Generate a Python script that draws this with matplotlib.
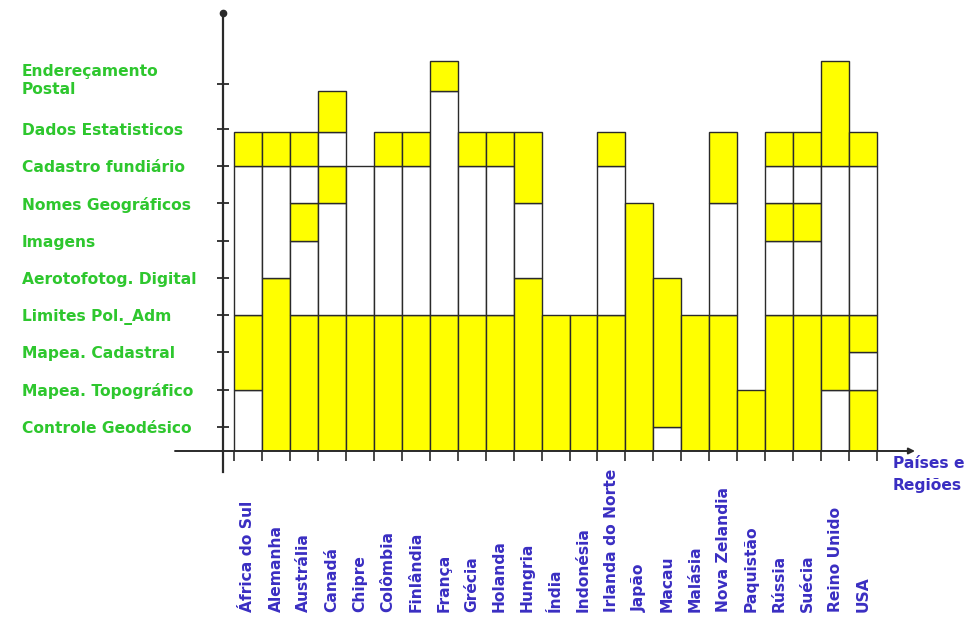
import matplotlib
matplotlib.use("Agg")
import matplotlib.pyplot as plt
from matplotlib.transforms import ScaledTranslation
import numpy as np

# ---------------- data ----------------
countries = ["África do Sul", "Alemanha", "Austrália", "Canadá", "Chipre", "Colômbia",
             "Finlândia", "França", "Grécia", "Holanda", "Hungria", "Índia", "Indonésia",
             "Irlanda do Norte", "Japão", "Macau", "Malásia", "Nova Zelandia", "Paquistão",
             "Rússia", "Suécia", "Reino Unido", "USA"]

themes = ["Controle Geodésico", "Mapea. Topográfico", "Mapea. Cadastral", "Limites Pol._Adm",
          "Aerotofotog. Digital", "Imagens", "Nomes Geográficos", "Cadastro fundiário",
          "Dados Estatisticos", "Endereçamento\nPostal"]

# band status from bottom to top: Y = yellow (covered), W = white
coverage = ["WWYYWWWWY", "YYYYYWWWY", "YYYYWWYWY", "YYYYWWWYWY", "YYYYWWWW",
            "YYYYWWWWY", "YYYYWWWWY", "YYYYWWWWWWY", "YYYYWWWWY", "YYYYWWWWY",
            "YYYYYWWYY", "YYYY", "YYYY", "YYYYWWWWY", "YYYYYYY", "WYYYY", "YYYY",
            "YYYYWWWYY", "YY", "YYYYWWYWY", "YYYYWWYWY", "WWYYWWWWYYY", "YYWYWWWWY"]

# band edges on the value scale (bottom = axis)
level_edges = [0.357, 1, 2, 3, 4, 5, 6, 7, 8, 8.9, 10, 10.8]
theme_ticks = [1, 2, 3, 4, 5, 6, 7, 8, 9, 10.2]

# ---------------- style ----------------
W, H = 966, 617
YELLOW = "#FFFF00"
EDGE = "#2a2a2a"
GREEN = "#2EC72E"
BLUE = "#3A2EC2"
FONT = "DejaVu Sans"
FS = 11.2

fig = plt.figure(figsize=(W / 100, H / 100), dpi=100)
ax = fig.add_axes([223 / W, (H - 451) / H, (915 - 223) / W, (451 - 13) / H])
ax.set_xlim(-0.893, 23.857)
ax.set_ylim(level_edges[0], 12.10)

for s in ax.spines.values():
    s.set_visible(False)

# cells
for i, code in enumerate(coverage):
    start = 0
    for j in range(1, len(code) + 1):
        if j == len(code) or code[j] != code[start]:
            b = level_edges[start]
            t = level_edges[j]
            ax.bar(i, t - b, bottom=b, width=1.0,
                   color=YELLOW if code[start] == "Y" else "white",
                   edgecolor=EDGE, linewidth=1.0, zorder=2)
            start = j

# axes lines
ax.annotate("", xy=(1.0, 0.0), xytext=((175 - 223) / 692, 0.0),
            xycoords="axes fraction", textcoords="axes fraction",
            arrowprops=dict(arrowstyle="-|>", color=EDGE, lw=1.4,
                            mutation_scale=9, shrinkA=0, shrinkB=0),
            annotation_clip=False, zorder=5)
ax.plot([0, 0], [(451 - 472) / 438, 1.0], transform=ax.transAxes, color=EDGE,
        lw=1.6, clip_on=False, zorder=5)
ax.plot([0], [1.0], "o", ms=4.5, color=EDGE, transform=ax.transAxes, clip_on=False, zorder=5)

# y ticks / labels
ax.set_yticks(theme_ticks, labels=themes)
ax.tick_params(axis="y", direction="inout", length=8, width=1.3, color=EDGE,
               pad=144.7 - 4)
ylabels = ax.get_yticklabels()
for t in ylabels:
    t.set_ha("left")
    t.set_multialignment("left")
    t.set_color(GREEN)
    t.set_fontweight("bold")
    t.set_fontsize(FS)
    t.set_fontfamily(FONT)
    t.set_linespacing(1.2)
ylabels[-1].set_transform(ylabels[-1].get_transform()
                          + ScaledTranslation(0, 0.06, fig.dpi_scale_trans))

# x ticks / labels
ax.set_xticks(np.arange(len(countries)), labels=countries)
ax.set_xticks(np.arange(-0.5, len(countries)), minor=True)
ax.tick_params(axis="x", which="major", direction="out", length=0, pad=115.9)
ax.tick_params(axis="x", which="minor", direction="out", length=7, width=1.2, color=EDGE)
for t in ax.get_xticklabels():
    t.set_rotation(90)
    t.set_va("bottom")
    t.set_ha("center")
    t.set_color(BLUE)
    t.set_fontweight("bold")
    t.set_fontsize(FS)
    t.set_fontfamily(FONT)

fig.text(893 / W, 1 - 456 / H, "Países e\nRegiões", ha="left", va="top",
         color=BLUE, fontweight="bold", fontsize=FS, family=FONT, linespacing=1.6)

fig.savefig("out.png", dpi=100)
